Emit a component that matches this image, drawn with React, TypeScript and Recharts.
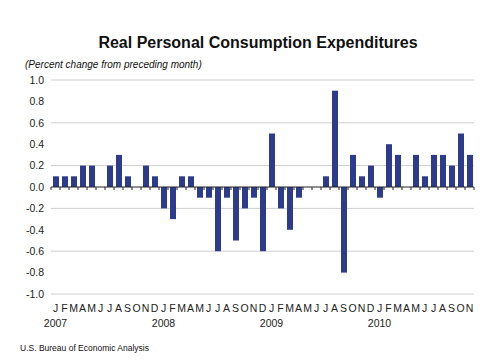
import { BarChart, Bar, XAxis, YAxis, CartesianGrid, ReferenceLine } from "recharts";

const MONTHS = ["J", "F", "M", "A", "M", "J", "J", "A", "S", "O", "N", "D"];
const YEARS = ["2007", "2008", "2009", "2010"];

// percent change from preceding month, Jan 2007 .. Nov 2010
const VALUES_2007 = [0.1, 0.1, 0.1, 0.2, 0.2, 0.0, 0.2, 0.3, 0.1, 0.0, 0.2, 0.1];
const VALUES_2008 = [-0.2, -0.3, 0.1, 0.1, -0.1, -0.1, -0.6, -0.1, -0.5, -0.2, -0.1, -0.6];
const VALUES_2009 = [0.5, -0.2, -0.4, -0.1, 0.0, 0.0, 0.1, 0.9, -0.8, 0.3, 0.1, 0.2];
const VALUES_2010 = [-0.1, 0.4, 0.3, 0.0, 0.3, 0.1, 0.3, 0.3, 0.2, 0.5, 0.3];

const Y_TICKS = [-1, -0.8, -0.6, -0.4, -0.2, 0, 0.2, 0.4, 0.6, 0.8, 1];

const FONT = "Arial, 'Liberation Sans', sans-serif";
const BAR_COLOR = "#2d3b8d";

const data = [VALUES_2007, VALUES_2008, VALUES_2009, VALUES_2010].flatMap((vals, yi) =>
  vals.map((v, mi) => ({
    month: MONTHS[mi],
    year: mi === 0 ? YEARS[yi] : "",
    key: `${YEARS[yi]}-${mi + 1}`,
    value: v,
  }))
);

const MonthTick = (props: any) => {
  const { x, y, payload } = props;
  const row = data[payload.index];
  return (
    <g transform={`translate(${x},${y})`}>
      <text x={0} y={0} dy={10} textAnchor="middle" fontSize={10.5} fill="#222" fontFamily={FONT}>
        {row.month}
      </text>
      {row.year && (
        <text x={0} y={0} dy={25} textAnchor="middle" fontSize={10.5} fill="#222" fontFamily={FONT}>
          {row.year}
        </text>
      )}
    </g>
  );
};

// zero line with small tick marks at the month boundaries
const ZeroLine = (props: any) => {
  const { x1, y1, x2, y2 } = props;
  const n = data.length;
  const step = (x2 - x1) / n;
  const ticks = [];
  for (let i = 0; i <= n; i++) {
    const tx = x1 + i * step;
    ticks.push(<line key={i} x1={tx} y1={y1} x2={tx} y2={y1 + 3} stroke="#222" strokeWidth={1} />);
  }
  return (
    <g>
      <line x1={x1} y1={y1} x2={x2} y2={y2} stroke="#222" strokeWidth={1} />
      {ticks}
    </g>
  );
};

export default function App() {
  return (
    <div style={{ position: "relative", width: 500, height: 361, background: "#fff", fontFamily: FONT }}>
      <style>{"body{margin:0}"}</style>
      <div
        style={{
          position: "absolute",
          top: 34,
          left: 0,
          width: 516,
          textAlign: "center",
          fontSize: 16,
          fontWeight: "bold",
          color: "#111",
        }}
      >
        Real Personal Consumption Expenditures
      </div>
      <div style={{ position: "absolute", top: 59, left: 25, fontSize: 10, fontStyle: "italic", color: "#111" }}>
        (Percent change from preceding month)
      </div>
      <BarChart
        width={500}
        height={361}
        data={data}
        margin={{ top: 80, right: 26, bottom: 37, left: 0 }}
        barSize={6}
      >
        <CartesianGrid vertical={false} stroke="#cfcfcf" />
        <XAxis
          dataKey="key"
          height={30}
          axisLine={false}
          tickLine={false}
          interval={0}
          tick={<MonthTick />}
        />
        <YAxis
          domain={[-1, 1]}
          ticks={Y_TICKS}
          width={51}
          axisLine={false}
          tickLine={false}
          tickSize={0}
          tickMargin={7}
          tickFormatter={(v: number) => v.toFixed(1)}
          tick={{ fontSize: 10.5, fill: "#222", fontFamily: FONT }}
        />
        <Bar dataKey="value" fill={BAR_COLOR} isAnimationActive={false} />
        <ReferenceLine y={0} shape={<ZeroLine />} />
      </BarChart>
      <div style={{ position: "absolute", top: 343, left: 20, fontSize: 8.5, color: "#111" }}>
        U.S. Bureau of Economic Analysis
      </div>
    </div>
  );
}
